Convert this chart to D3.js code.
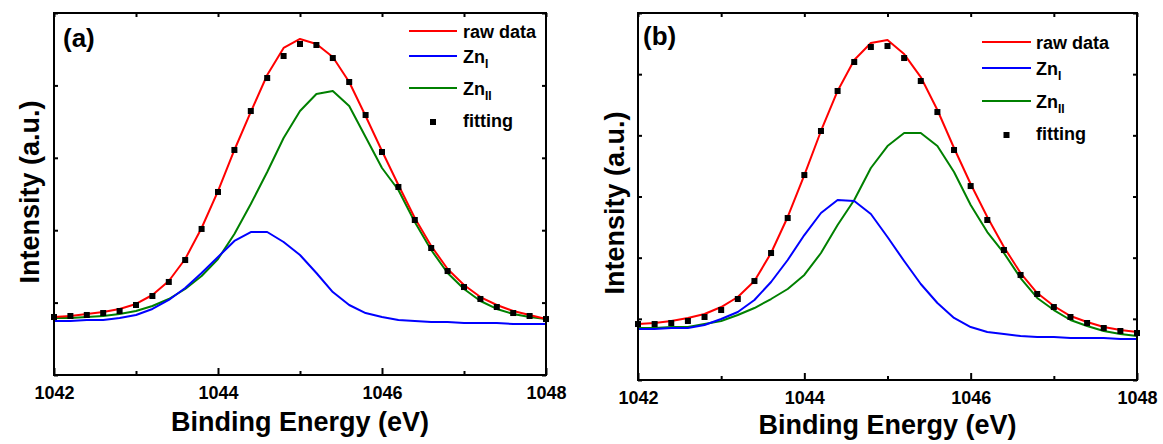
<!DOCTYPE html>
<html><head><meta charset="utf-8">
<script src="https://cdn.jsdelivr.net/npm/d3@7/dist/d3.min.js"></script>
<style>
body{margin:0;background:#fff;}
svg{display:block;}
text{font-family:"Liberation Sans",Arial,Helvetica,sans-serif;font-weight:bold;fill:#000;}
</style>
</head><body>
<svg id="chart" width="1163" height="444"></svg>
<script>
// ---------- data ----------
const energy = [1042.0,1042.2,1042.4,1042.6,1042.8,1043.0,1043.2,1043.4,1043.6,1043.8,
  1044.0,1044.2,1044.4,1044.6,1044.8,1045.0,1045.2,1045.4,1045.6,1045.8,
  1046.0,1046.2,1046.4,1046.6,1046.8,1047.0,1047.2,1047.4,1047.6,1047.8,1048.0];

const xMajorTicks = [1042, 1044, 1046, 1048];
const xMinorTicks = [1043, 1045, 1047];
const yTicksA = [0, 10, 20, 30, 40, 50];
const yTicksB = [0, 10, 20, 30, 40, 50, 60];

const panelLabels = ["(a)", "(b)"];
const xTitle = "Binding Energy (eV)";
const yTitle = "Intensity (a.u.)";
const legendNames = ["raw data", "Zn", "Zn", "fitting"];
const legendSubs = ["", "I", "II", ""];
const seriesColors = ["#ff0000", "#0000ff", "#008000", "#000000"];

// panel (a)
const rawA  = [8.01,8.15,8.43,8.70,9.12,9.81,11.05,12.98,16.02,20.30,25.41,31.08,36.33,41.44,45.17,46.41,45.72,43.92,40.47,35.77,30.94,26.24,21.69,17.82,14.64,12.43,10.77,9.67,8.84,8.29,7.73];
const znIA  = [7.46,7.46,7.60,7.60,7.87,8.29,9.12,10.36,12.02,14.09,16.30,18.51,19.75,19.75,18.37,16.57,14.09,11.46,9.67,8.56,8.01,7.60,7.46,7.32,7.32,7.18,7.18,7.18,7.04,7.04,7.04];
const znIIA = [7.87,7.87,8.01,8.15,8.43,8.84,9.53,10.50,11.88,13.67,16.02,19.48,23.62,28.04,32.73,36.46,38.81,39.23,37.15,32.87,28.59,25.55,21.13,17.27,14.09,11.88,10.22,9.12,8.43,8.01,7.73];
const fitA  = [8.01,8.15,8.29,8.56,8.84,9.67,10.91,12.85,15.88,20.17,25.28,31.08,36.46,41.02,44.06,45.72,45.58,43.78,40.47,35.91,30.80,25.97,21.41,17.54,14.36,12.15,10.50,9.39,8.56,8.15,7.73];

// panel (b)
const rawB  = [9.15,9.32,9.65,10.14,10.79,11.93,13.57,16.18,20.76,26.65,33.51,40.71,47.25,52.31,55.09,55.58,53.29,49.53,44.14,37.93,32.04,26.65,21.74,17.49,14.22,12.10,10.46,9.48,8.66,8.17,7.85];
const znIB  = [8.34,8.34,8.50,8.50,8.99,9.97,11.12,13.08,16.02,19.62,23.70,27.30,29.43,29.26,27.14,23.38,19.45,15.69,12.59,10.14,8.66,7.85,7.52,7.19,7.03,7.03,6.87,6.87,6.87,6.70,6.70];
const znIIB = [8.50,8.50,8.66,8.66,9.15,9.65,10.63,11.77,13.24,14.88,17.17,20.76,25.34,29.43,34.66,38.25,40.38,40.38,38.25,34.00,28.61,24.19,20.76,16.67,13.41,11.44,9.81,8.83,8.01,7.52,7.19];
const fitB  = [9.15,9.15,9.32,9.65,10.30,11.44,13.24,16.18,20.76,26.48,33.51,40.71,47.25,51.99,54.44,54.60,52.64,48.88,43.81,37.60,31.71,26.16,21.25,17.17,14.06,11.93,10.30,9.32,8.50,8.01,7.68];

// ---------- drawing ----------
const svg = d3.select("#chart");

const panels = [
  {label: panelLabels[0], x0: 54, x1: 546, y0: 13, y1: 375, yTicks: yTicksA,
   series: [rawA, znIA, znIIA], fit: fitA,
   labelPos: [63, 47], yTitleX: 39, yTitleY: 192, xTitleY: 431,
   legend: {lineX0: 409, lineX1: 457, textX: 463, rows: [31, 56, 88, 122]}},
  {label: panelLabels[1], x0: 638, x1: 1137, y0: 13, y1: 380, yTicks: yTicksB,
   series: [rawB, znIB, znIIB], fit: fitB,
   labelPos: [643, 45], yTitleX: 624, yTitleY: 203, xTitleY: 434,
   legend: {lineX0: 982, lineX1: 1031, textX: 1036, rows: [42, 68, 101, 135]}}
];

panels.forEach(p => {
  const g = svg.append("g");
  const x = d3.scaleLinear().domain([1042, 1048]).range([p.x0, p.x1]);
  const y = d3.scaleLinear().domain([p.yTicks[0], p.yTicks[p.yTicks.length - 1]]).range([p.y1, p.y0]);

  // curves
  const line = d3.line().x((d, i) => x(energy[i])).y(d => y(d));
  // draw order: green, blue, red on top
  [2, 1, 0].forEach(k => {
    g.append("path").datum(p.series[k])
      .attr("d", line).attr("fill", "none")
      .attr("stroke", seriesColors[k]).attr("stroke-width", 2)
      .attr("stroke-linejoin", "round");
  });

  // fitting squares
  g.selectAll("rect.fit").data(p.fit).enter().append("rect")
    .attr("class", "fit")
    .attr("x", (d, i) => x(energy[i]) - 3)
    .attr("y", d => y(d) - 3)
    .attr("width", 6).attr("height", 6)
    .attr("fill", "#000");

  // axes (ticks inward)
  const bottom = g.append("g").attr("transform", `translate(0,${p.y1})`)
    .call(d3.axisBottom(x).tickValues(xMajorTicks).tickSizeInner(-7).tickSizeOuter(0)
      .tickPadding(11).tickFormat(d3.format("d")));
  bottom.select(".domain").remove();
  bottom.selectAll("text").attr("font-size", 18).style("font-family", null);
  bottom.selectAll("line").attr("stroke", "#000").attr("stroke-width", 2);

  const bottomMinor = g.append("g").attr("transform", `translate(0,${p.y1})`)
    .call(d3.axisBottom(x).tickValues(xMinorTicks).tickSizeInner(-4).tickSizeOuter(0).tickFormat(""));
  bottomMinor.select(".domain").remove();
  bottomMinor.selectAll("line").attr("stroke", "#000").attr("stroke-width", 2);

  const top = g.append("g").attr("transform", `translate(0,${p.y0})`)
    .call(d3.axisTop(x).tickValues(xMajorTicks.concat(xMinorTicks)).tickSizeInner(-4).tickSizeOuter(0).tickFormat(""));
  top.select(".domain").remove();
  top.selectAll("line").attr("stroke", "#000").attr("stroke-width", 2);

  const left = g.append("g").attr("transform", `translate(${p.x0},0)`)
    .call(d3.axisLeft(y).tickValues(p.yTicks).tickSizeInner(-4).tickSizeOuter(0).tickFormat(""));
  left.select(".domain").remove();
  left.selectAll("line").attr("stroke", "#000").attr("stroke-width", 2);

  const right = g.append("g").attr("transform", `translate(${p.x1},0)`)
    .call(d3.axisRight(y).tickValues(p.yTicks).tickSizeInner(-4).tickSizeOuter(0).tickFormat(""));
  right.select(".domain").remove();
  right.selectAll("line").attr("stroke", "#000").attr("stroke-width", 2);

  // frame
  g.append("rect").attr("x", p.x0).attr("y", p.y0)
    .attr("width", p.x1 - p.x0).attr("height", p.y1 - p.y0)
    .attr("fill", "none").attr("stroke", "#000").attr("stroke-width", 2);

  // panel label
  g.append("text").attr("x", p.labelPos[0]).attr("y", p.labelPos[1])
    .attr("font-size", 26).text(p.label);

  // axis titles
  g.append("text").attr("x", (p.x0 + p.x1) / 2).attr("y", p.xTitleY)
    .attr("text-anchor", "middle").attr("font-size", 27).text(xTitle);
  g.append("text")
    .attr("transform", `translate(${p.yTitleX},${p.yTitleY}) rotate(-90)`)
    .attr("text-anchor", "middle").attr("font-size", 27).text(yTitle);

  // legend
  const L = p.legend;
  legendNames.forEach((name, k) => {
    const ry = L.rows[k];
    if (k < 3) {
      g.append("line").attr("x1", L.lineX0).attr("x2", L.lineX1)
        .attr("y1", ry).attr("y2", ry)
        .attr("stroke", seriesColors[k]).attr("stroke-width", 2);
    } else {
      g.append("rect").attr("x", (L.lineX0 + L.lineX1) / 2 - 3).attr("y", ry - 3)
        .attr("width", 6).attr("height", 6).attr("fill", "#000");
    }
    const t = g.append("text").attr("x", L.textX).attr("y", ry + (k === 3 ? 5 : 6.5))
      .attr("font-size", 18).text(name);
    if (legendSubs[k]) {
      t.append("tspan").attr("font-size", 12).attr("dy", 5).text(legendSubs[k]);
    }
  });
});
</script>
</body></html>
